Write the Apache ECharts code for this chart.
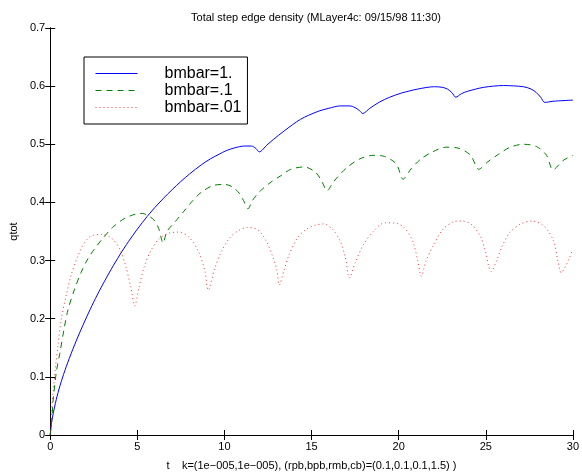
<!DOCTYPE html>
<html>
<head>
<meta charset="utf-8">
<script src="https://cdn.jsdelivr.net/npm/echarts@6/dist/echarts.min.js"></script>
<style>
  html, body { margin: 0; padding: 0; background: #fff; }
  #chart { width: 582px; height: 476px; }
</style>
</head>
<body>
<div id="chart"></div>
<script>
// t, qtot pairs
var blueData = [[0,0],[0.1,0.025],[0.25,0.048],[0.45,0.073],[0.7,0.098],[1,0.124],[1.4,0.155],[1.78,0.182],[2.2,0.21],[2.6,0.235],[3,0.258],[3.5,0.285],[4,0.31],[4.5,0.333],[5,0.354],[5.57,0.376],[6,0.391],[6.5,0.407],[7,0.422],[7.5,0.436],[8,0.449],[8.69,0.465],[9.2,0.475],[9.7,0.483],[10.1,0.489],[10.6,0.494],[11.15,0.497],[11.55,0.497],[11.8,0.493],[12.0,0.487],[12.45,0.499],[12.8,0.508],[13.43,0.523],[14.37,0.543],[15.32,0.556],[16,0.562],[16.65,0.566],[17.2,0.566],[17.5,0.563],[17.75,0.558],[17.94,0.553],[18.35,0.562],[18.92,0.573],[19.49,0.581],[20.15,0.588],[21.1,0.595],[22.05,0.599],[22.5,0.598],[22.8,0.595],[23.05,0.589],[23.28,0.581],[23.6,0.587],[23.94,0.591],[24.89,0.598],[26.02,0.601],[27.16,0.599],[27.6,0.595],[27.9,0.589],[28.15,0.581],[28.39,0.572],[28.86,0.574],[30,0.576]];

var greenData = [[0,0],[0.1,0.03],[0.17,0.06],[0.36,0.11],[0.55,0.14],[0.8,0.183],[1.02,0.215],[1.4,0.251],[1.78,0.28],[2.16,0.303],[2.54,0.32],[3.01,0.338],[3.58,0.357],[4.24,0.372],[4.91,0.38],[5.3,0.381],[5.57,0.378],[5.95,0.37],[6.23,0.355],[6.48,0.33],[6.7,0.35],[7.18,0.367],[7.65,0.384],[8.12,0.401],[8.69,0.418],[9.36,0.429],[10.02,0.431],[10.5,0.426],[10.87,0.415],[11.1,0.403],[11.35,0.389],[11.6,0.403],[12.0,0.418],[12.67,0.435],[13.24,0.446],[13.81,0.457],[14.57,0.461],[15.23,0.452],[15.61,0.435],[15.89,0.42],[16.27,0.436],[17.03,0.46],[17.78,0.475],[18.54,0.481],[19.2,0.479],[19.87,0.466],[20.25,0.44],[20.72,0.458],[21.29,0.475],[21.95,0.487],[22.71,0.495],[23.47,0.493],[24.13,0.481],[24.6,0.457],[25.08,0.469],[25.74,0.483],[26.4,0.495],[27.16,0.5],[27.92,0.496],[28.49,0.481],[28.86,0.456],[29.43,0.472],[30,0.481]];

var redData = [[0,0],[0.08,0.04],[0.17,0.075],[0.3,0.115],[0.45,0.155],[0.64,0.2],[0.93,0.242],[1.21,0.276],[1.59,0.308],[1.97,0.331],[2.35,0.342],[2.92,0.345],[3.49,0.339],[3.96,0.322],[4.34,0.29],[4.62,0.255],[4.85,0.222],[5.09,0.253],[5.38,0.288],[5.76,0.316],[6.23,0.337],[6.8,0.347],[7.37,0.349],[7.94,0.341],[8.5,0.316],[8.88,0.282],[9.07,0.249],[9.45,0.287],[9.83,0.316],[10.3,0.339],[10.78,0.351],[11.31,0.357],[11.91,0.353],[12.39,0.334],[12.77,0.307],[13.01,0.284],[13.15,0.258],[13.43,0.284],[13.71,0.31],[14.19,0.339],[14.66,0.353],[15.23,0.361],[15.7,0.363],[16.23,0.353],[16.65,0.333],[16.93,0.307],[17.18,0.27],[17.5,0.296],[17.97,0.327],[18.54,0.35],[19.2,0.365],[19.87,0.364],[20.34,0.356],[20.81,0.333],[21.1,0.299],[21.29,0.273],[21.57,0.299],[21.95,0.324],[22.52,0.353],[23.09,0.366],[23.66,0.368],[24.22,0.361],[24.7,0.341],[24.98,0.316],[25.17,0.29],[25.3,0.281],[25.61,0.299],[25.93,0.324],[26.4,0.349],[27.07,0.364],[27.69,0.368],[28.39,0.358],[28.9,0.333],[29.14,0.299],[29.33,0.279],[29.58,0.29],[29.81,0.305],[30,0.32]];

var seriesNames = ['bmbar=1.', 'bmbar=.1', 'bmbar=.01'];

var chart = echarts.init(document.getElementById('chart'));
var font = 'Liberation Sans, Arial, Helvetica, sans-serif';

var frameAxis = {
  type: 'value',
  axisLine: { show: true, lineStyle: { color: '#000', width: 1 } },
  axisTick: { show: true, inside: true, length: 5, lineStyle: { color: '#000' } },
  splitLine: { show: false }
};

var option = {
  animation: false,
  backgroundColor: '#fff',
  textStyle: { fontFamily: font },
  title: {
    text: 'Total step edge density (MLayer4c: 09/15/98 11:30)',
    left: 311,
    top: 7,
    textAlign: 'center',
    textStyle: { fontSize: 11, fontWeight: 'normal', color: '#000', fontFamily: font }
  },
  grid: { left: 47, right: 7, top: 28, bottom: 37 },
  legend: {
    orient: 'vertical',
    left: 84,
    top: 57,
    padding: [8, 6, 8, 11],
    itemWidth: 42,
    itemHeight: 12,
    itemGap: 0,
    borderColor: '#000',
    borderWidth: 1,
    backgroundColor: '#fff',
    itemStyle: { opacity: 0, color: 'transparent', borderWidth: 0 },
    lineStyle: { width: 1 },
    textStyle: { fontSize: 16, lineHeight: 17, color: '#000', fontFamily: font, padding: [0, 0, 0, 22] },
    data: seriesNames
  },
  xAxis: [
    Object.assign({}, frameAxis, {
      min: 0, max: 30, interval: 5,
      position: 'bottom',
      name: 't    k=(1e\u2212005,1e\u2212005), (rpb,bpb,rmb,cb)=(0.1,0.1,0.1,1.5) )',
      nameLocation: 'middle',
      nameGap: 25,
      nameTextStyle: { fontSize: 11, color: '#000', fontFamily: font },
      axisLabel: { fontSize: 11, color: '#000', margin: 6, fontFamily: font }
    }),
    Object.assign({}, frameAxis, {
      min: 0, max: 30, interval: 5,
      position: 'top',
      axisLabel: { show: false }
    })
  ],
  yAxis: [
    Object.assign({}, frameAxis, {
      min: 0, max: 0.7, interval: 0.1,
      position: 'left',
      name: 'qtot',
      nameLocation: 'middle',
      nameGap: 30,
      nameRotate: 90,
      nameTextStyle: { fontSize: 11, color: '#000', fontFamily: font },
      axisLabel: { fontSize: 11, color: '#000', margin: 5, fontFamily: font }
    }),
    Object.assign({}, frameAxis, {
      min: 0, max: 0.7, interval: 0.1,
      position: 'right',
      axisLabel: { show: false }
    })
  ],
  series: [
    {
      name: seriesNames[0],
      type: 'line',
      symbol: 'none',
      smooth: 0.3,
      color: '#0000ff',
      lineStyle: { color: '#0000ff', width: 1 },
      data: blueData
    },
    {
      name: seriesNames[1],
      type: 'line',
      symbol: 'none',
      smooth: 0.3,
      color: '#008000',
      lineStyle: { color: '#008000', width: 1, type: [6, 5] },
      data: greenData
    },
    {
      name: seriesNames[2],
      type: 'line',
      symbol: 'none',
      smooth: 0.3,
      color: '#ff0000',
      lineStyle: { color: '#ff0000', width: 1, type: [1, 3], opacity: 0.8 },
      data: redData
    }
  ]
};

chart.setOption(option);
</script>
</body>
</html>
